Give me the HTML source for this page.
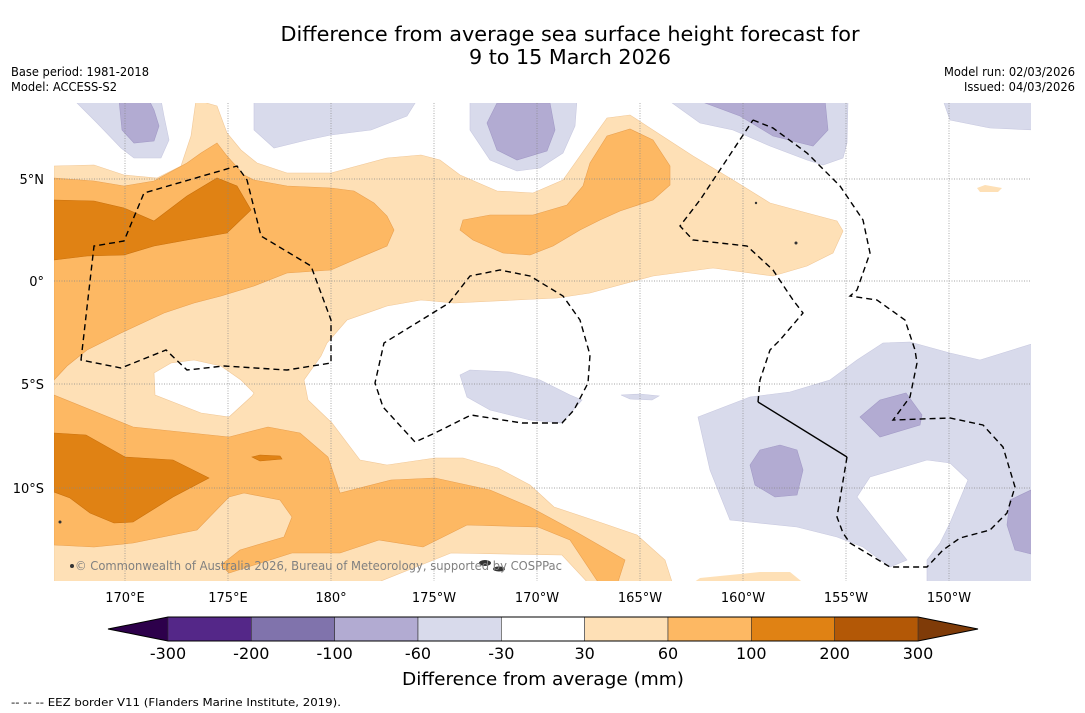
<!DOCTYPE html>
<html><head><meta charset="utf-8"><style>
html,body{margin:0;padding:0;background:#fff;}
svg{display:block;font-family:"DejaVu Sans","Liberation Sans",sans-serif;}
</style></head><body>
<svg id="chart" width="1085" height="713" viewBox="0 0 1085 713" xmlns="http://www.w3.org/2000/svg">
<rect x="0" y="0" width="1085" height="713" fill="#fff"/>
<text x="570" y="41" font-size="20" text-anchor="middle" textLength="579" lengthAdjust="spacingAndGlyphs">Difference from average sea surface height forecast for</text>
<text x="570" y="64" font-size="20" text-anchor="middle" textLength="202" lengthAdjust="spacingAndGlyphs">9 to 15 March 2026</text>
<text x="11" y="76" font-size="12" textLength="138" lengthAdjust="spacingAndGlyphs">Base period: 1981-2018</text>
<text x="11" y="91" font-size="12" textLength="106" lengthAdjust="spacingAndGlyphs">Model: ACCESS-S2</text>
<text x="1075" y="76" font-size="12" text-anchor="end" textLength="131" lengthAdjust="spacingAndGlyphs">Model run: 02/03/2026</text>
<text x="1075" y="91" font-size="12" text-anchor="end" textLength="111" lengthAdjust="spacingAndGlyphs">Issued: 04/03/2026</text>

<defs><clipPath id="mapclip"><rect x="54" y="103" width="977" height="478"/></clipPath></defs>
<g clip-path="url(#mapclip)">
<rect x="54" y="103" width="977" height="478" fill="#fff"/>
<!-- light orange 30-60 -->
<path fill="#fee0b6" stroke="#f1c898" stroke-width="0.6" d="M54,166 L94,165 L124,175 L157,178 L181,166 L191,136 L196,100 L217,106 L227,133 L241,150 L257,163 L287,173 L331,173 L387,158 L421,155 L440,160 L460,175 L497,191 L533,193 L563,180 L587,146 L607,118 L630,115 L653,130 L693,156 L733,180 L770,203 L807,213 L837,221 L843,231 L833,253 L807,266 L773,276 L713,268 L653,276 L590,293 L557,298 L454,303 L421,300 L387,306 L347,320 L327,343 L321,356 L304,380 L308,400 L332,423 L360,460 L387,465 L435,458 L463,458 L498,468 L530,485 L554,507 L602,523 L637,535 L665,560 L673,585 L590,585 L562,555 L451,553 L371,585 L54,585 Z"/>
<path fill="#fee0b6" d="M690,585 L700,578 L760,572 L790,572 L806,585 Z M977,188 L985,185 L1002,188 L998,192 L980,192 Z"/>
<path fill="#fff" stroke="#f1c898" stroke-width="0.6" d="M154,373 L171,363 L194,360 L221,366 L241,380 L254,393 L252,396 L229,417 L201,413 L155,395 Z"/>
<!-- medium orange 60-100 -->
<path fill="#fdb863" stroke="#e9a050" stroke-width="0.6" d="M54,178 L94,181 L124,186 L154,181 L187,163 L201,153 L217,143 L227,156 L244,175 L254,180 L287,186 L331,188 L354,191 L374,203 L387,216 L394,230 L387,246 L354,260 L331,270 L287,273 L254,286 L221,296 L194,303 L164,313 L121,333 L87,350 L67,366 L54,380 Z"/>
<path fill="#fdb863" stroke="#e9a050" stroke-width="0.6" d="M463,220 L490,215 L533,215 L567,205 L583,186 L590,163 L607,136 L630,129 L653,140 L670,166 L670,185 L653,200 L620,211 L600,220 L580,230 L553,246 L530,255 L503,253 L473,240 L460,230 Z"/>
<path fill="#fdb863" stroke="#e9a050" stroke-width="0.6" d="M54,395 L133,427 L229,437 L268,427 L300,433 L328,457 L340,493 L391,480 L435,478 L490,490 L530,507 L578,533 L625,560 L617,585 L600,585 L570,540 L538,527 L467,525 L423,547 L379,540 L340,553 L292,553 L229,573 L221,565 L240,550 L284,537 L292,517 L280,500 L244,493 L229,497 L197,530 L133,543 L94,547 L54,545 Z"/>
<!-- dark orange 100-200 -->
<path fill="#e08214" stroke="#c9700c" stroke-width="0.6" d="M54,200 L94,201 L124,208 L154,221 L187,196 L217,178 L237,186 L251,210 L227,233 L187,240 L154,246 L124,255 L87,256 L54,260 Z"/>
<path fill="#e08214" stroke="#c9700c" stroke-width="0.6" d="M54,433 L86,435 L125,457 L173,460 L209,478 L173,497 L133,522 L114,523 L90,513 L70,498 L54,492 Z M252,457 L260,455 L280,456 L282,459 L260,461 Z"/>
<!-- light purple -30 to -60 -->
<g fill="#d8daeb" stroke="#c8c9e0" stroke-width="0.6">
<path d="M74,100 L97,123 L121,148 L134,158 L161,158 L169,140 L164,116 L161,100 Z"/>
<path d="M254,100 L254,130 L274,148 L307,140 L331,135 L371,130 L407,116 L417,100 Z"/>
<path d="M470,100 L470,130 L490,160 L517,171 L540,168 L563,153 L575,126 L577,100 Z"/>
<path d="M668,100 L700,123 L733,130 L770,146 L807,160 L823,165 L843,158 L847,143 L848,100 Z"/>
<path d="M943,100 L950,120 L990,128 L1035,130 L1035,100 Z"/>
<path d="M698,417 L750,397 L790,392 L830,380 L857,360 L883,343 L910,342 L950,353 L980,360 L1035,343 L1035,585 L927,585 L927,560 L940,543 L950,523 L968,480 L950,463 L927,460 L870,477 L857,497 L883,530 L907,560 L890,567 L863,547 L837,537 L797,527 L730,520 L710,470 Z"/>
<path d="M460,375 L470,370 L510,372 L540,380 L570,395 L582,400 L562,423 L530,420 L490,410 L467,397 Z"/>
<path d="M621,395 L640,394 L659,396 L652,400 L630,399 Z"/>
</g>
<!-- dark purple -60 to -100 -->
<g fill="#b2abd2" stroke="#a29ac6" stroke-width="0.6">
<path d="M119,100 L122,130 L134,143 L154,141 L159,126 L154,110 L149,100 Z"/>
<path d="M497,103 L487,123 L497,150 L517,160 L547,151 L555,130 L550,103 Z"/>
<path d="M697,100 L740,116 L773,136 L813,146 L828,130 L825,100 Z"/>
<path d="M760,450 L780,445 L797,450 L803,470 L797,495 L775,497 L755,485 L750,465 Z"/>
<path d="M860,417 L880,400 L906,393 L922,415 L920,425 L880,437 Z"/>
<path d="M1010,500 L1031,490 L1035,555 L1015,550 L1007,525 Z"/>
</g>
<!-- gridlines -->
<g stroke="#888" stroke-width="0.7" stroke-dasharray="1,1.5">
<line x1="125" y1="103" x2="125" y2="581"/><line x1="228" y1="103" x2="228" y2="581"/><line x1="331" y1="103" x2="331" y2="581"/><line x1="434" y1="103" x2="434" y2="581"/><line x1="537" y1="103" x2="537" y2="581"/><line x1="640" y1="103" x2="640" y2="581"/><line x1="743" y1="103" x2="743" y2="581"/><line x1="846" y1="103" x2="846" y2="581"/><line x1="949" y1="103" x2="949" y2="581"/>
<line x1="54" y1="179" x2="1031" y2="179"/><line x1="54" y1="281" x2="1031" y2="281"/><line x1="54" y1="384" x2="1031" y2="384"/><line x1="54" y1="488" x2="1031" y2="488"/>
</g>
<!-- EEZ borders -->
<g fill="none" stroke="#000" stroke-width="1.4" stroke-dasharray="6,4">
<path d="M81,360 L94,246 L124,241 L144,193 L237,166 L247,180 L261,236 L311,266 L331,320 L331,363 L287,370 L224,366 L187,370 L166,350 L121,368 Z"/>
<path d="M449,303 L470,276 L500,270 L530,276 L563,296 L580,320 L590,355 L588,383 L574,410 L562,423 L522,423 L471,415 L435,433 L415,442 L383,407 L375,383 L384,343 Z"/>
<path d="M753,120 L773,128 L807,153 L840,186 L863,220 L870,253 L857,290 L850,296 L877,300 L905,320 L915,350 L917,363 L910,397 L893,420 L950,418 L983,425 L1003,447 L1015,487 L1007,513 L990,530 L960,538 L943,550 L927,567 L890,567 L850,543 L843,533 L837,517 L847,457"/>
<path d="M758,402 L760,380 L770,350 L780,340 L803,313 L793,300 L773,270 L747,246 L693,240 L680,226 L700,200 L753,120"/>
</g>
<path d="M758,402 L847,457" stroke="#000" stroke-width="1.4" fill="none"/>
<g fill="#333">
<ellipse cx="485" cy="563" rx="6" ry="3"/><ellipse cx="499" cy="569" rx="6" ry="2.5"/><circle cx="72" cy="566" r="2"/><circle cx="60" cy="522" r="1.5"/><circle cx="796" cy="243" r="1.5"/><circle cx="756" cy="203" r="1.2"/>
</g>
<text x="75" y="570" font-size="12" fill="#808080" textLength="487" lengthAdjust="spacingAndGlyphs">© Commonwealth of Australia 2026, Bureau of Meteorology, supported by COSPPac</text>
</g>

<g font-size="13" text-anchor="end">
<text x="44" y="184">5°N</text><text x="44" y="286">0°</text><text x="44" y="389">5°S</text><text x="44" y="493">10°S</text>
</g>
<g font-size="13" text-anchor="middle">
<text x="125" y="602">170°E</text><text x="228" y="602">175°E</text><text x="331" y="602">180°</text><text x="434" y="602">175°W</text><text x="537" y="602">170°W</text><text x="640" y="602">165°W</text><text x="743" y="602">160°W</text><text x="846" y="602">155°W</text><text x="949" y="602">150°W</text>
</g>

<g id="colorbar"></g>
<text x="543" y="685" font-size="18" text-anchor="middle" textLength="282" lengthAdjust="spacingAndGlyphs">Difference from average (mm)</text>
<text x="11" y="706" font-size="11" textLength="330" lengthAdjust="spacingAndGlyphs">--  --  -- EEZ border V11 (Flanders Marine Institute, 2019).</text>
</svg>
<script>
const levelLabels = ["-300","-200","-100","-60","-30","30","60","100","200","300"];
const binColors = ["#542788","#8073ac","#b2abd2","#d8daeb","#ffffff","#fee0b6","#fdb863","#e08214","#b35806"];
const extendColors = ["#2d004b","#7f3b08"];
(function(){
  const ns="http://www.w3.org/2000/svg";
  const g=document.getElementById('colorbar');
  const x0=168,x1=918,y0=617,h=24;
  const n=binColors.length, w=(x1-x0)/n;
  const xOf=i=>x0+i*w;
  const lt=document.createElementNS(ns,'polygon');
  lt.setAttribute('points',`${x0},${y0} 108,${y0+h/2} ${x0},${y0+h}`);
  lt.setAttribute('fill',extendColors[0]);
  
  
  g.appendChild(lt);
  const rt=document.createElementNS(ns,'polygon');
  rt.setAttribute('points',`${x1},${y0} 978,${y0+h/2} ${x1},${y0+h}`);
  rt.setAttribute('fill',extendColors[1]);
  
  
  g.appendChild(rt);
  binColors.forEach((c,i)=>{
    const r=document.createElementNS(ns,'rect');
    r.setAttribute('x',xOf(i));r.setAttribute('y',y0);r.setAttribute('width',w);r.setAttribute('height',h);
    r.setAttribute('fill',c);r.setAttribute('stroke','#333');r.setAttribute('stroke-width','0.6');
    
    
    g.appendChild(r);
  });
  const o=document.createElementNS(ns,'polygon');
  o.setAttribute('points',`${x0},${y0} ${x1},${y0} 978,${y0+h/2} ${x1},${y0+h} ${x0},${y0+h} 108,${y0+h/2}`);
  o.setAttribute('fill','none');o.setAttribute('stroke','#000');o.setAttribute('stroke-width','1');
  
  
  g.appendChild(o);
  levelLabels.forEach((l,i)=>{
    const t=document.createElementNS(ns,'text');
    t.setAttribute('x',xOf(i));t.setAttribute('y',659);t.setAttribute('font-size','16');t.setAttribute('text-anchor','middle');
    t.textContent=l;
    
    
    g.appendChild(t);
  });
})();
</script>
</body></html>
